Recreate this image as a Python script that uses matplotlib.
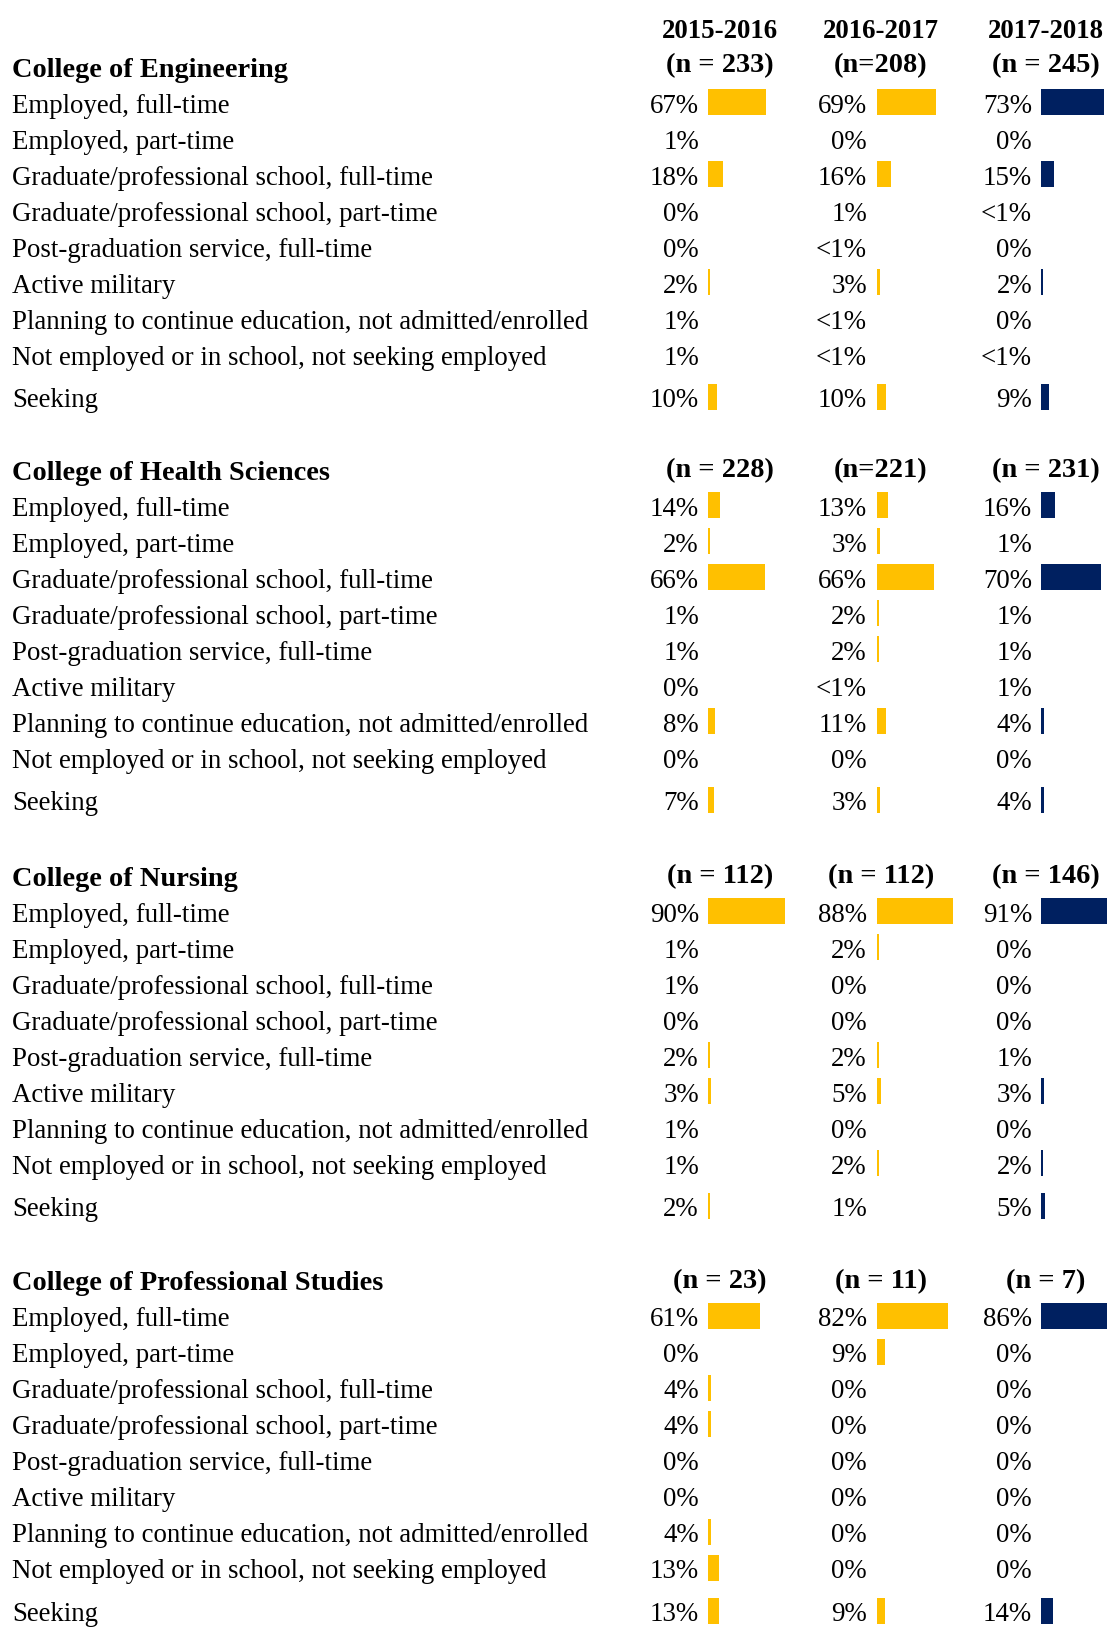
import matplotlib
matplotlib.use("Agg")
import matplotlib.pyplot as plt

categories = [
    "Employed, full-time",
    "Employed, part-time",
    "Graduate/professional school, full-time",
    "Graduate/professional school, part-time",
    "Post-graduation service, full-time",
    "Active military",
    "Planning to continue education, not admitted/enrolled",
    "Not employed or in school, not seeking employed",
    "Seeking",
]
years = ["2015-2016", "2016-2017", "2017-2018"]
colleges = [
    "College of Engineering",
    "College of Health Sciences",
    "College of Nursing",
    "College of Professional Studies",
]
n_labels = [
    ["(n = 233)", "(n=208)", "(n = 245)"],
    ["(n = 228)", "(n=221)", "(n = 231)"],
    ["(n = 112)", "(n = 112)", "(n = 146)"],
    ["(n = 23)", "(n = 11)", "(n = 7)"],
]

# "<1%" is stored as 0.5
LT1 = 0.5
engineering = [
    [67, 1, 18, 0, 0, 2, 1, 1, 10],
    [69, 0, 16, 1, LT1, 3, LT1, LT1, 10],
    [73, 0, 15, LT1, 0, 2, 0, LT1, 9],
]
health = [
    [14, 2, 66, 1, 1, 0, 8, 0, 7],
    [13, 3, 66, 2, 2, LT1, 11, 0, 3],
    [16, 1, 70, 1, 1, 1, 4, 0, 4],
]
nursing = [
    [90, 1, 1, 0, 2, 3, 1, 1, 2],
    [88, 2, 0, 0, 2, 5, 0, 2, 1],
    [91, 0, 0, 0, 1, 3, 0, 2, 5],
]
professional = [
    [61, 0, 4, 4, 0, 0, 4, 13, 13],
    [82, 9, 0, 0, 0, 0, 0, 0, 9],
    [86, 0, 0, 0, 0, 0, 0, 0, 14],
]
sections = [engineering, health, nursing, professional]

GOLD = "#FFC000"
NAVY = "#002060"
col_colors = [GOLD, GOLD, NAVY]

W, H = 1107, 1627
fig = plt.figure(figsize=(W / 100, H / 100), dpi=100)
ax = fig.add_axes([0, 0, 1, 1])
ax.set_xlim(0, W)
ax.set_ylim(H, 0)
ax.axis("off")

font = "Liberation Serif"
fs = 19.4          # row labels and percentages
fs_year = 19.4
fs_head = 20.4     # college names and n labels
row_h = 36.0
seek_gap = 6.5
section_top = [104, 507, 913, 1318]
pct_right = [699, 867, 1032]
bar_left = [708, 877, 1041]
head_center = [720, 881, 1046]
px_per_pct = 0.86
bar_h = 26


def fmt(v):
    if 0 < v < 1:
        return "<1%"
    return f"{v:g}%"


for j, yr in enumerate(years):
    ax.text(head_center[j], 31, yr, ha="center", va="center", fontsize=fs_year,
            fontweight="bold", family=font)

for s, (college, data) in enumerate(zip(colleges, sections)):
    y0 = section_top[s]
    head_y = y0 - row_h
    ax.text(12, head_y + 2, college, ha="left", va="center", fontsize=fs_head,
            fontweight="bold", family=font)
    for j in range(3):
        ax.text(head_center[j], head_y - (2 if s == 0 else 0), n_labels[s][j],
                ha="center", va="center", fontsize=fs_head, fontweight="bold",
                family=font)
    ys = [y0 + i * row_h + (seek_gap if i == len(categories) - 1 else 0)
          for i in range(len(categories))]
    for i, cat in enumerate(categories):
        ax.text(12, ys[i] + 2, cat, ha="left", va="center", fontsize=fs, family=font)
    for j in range(3):
        vals = data[j]
        for i, v in enumerate(vals):
            ax.text(pct_right[j], ys[i] + 2, fmt(v), ha="right", va="center",
                    fontsize=fs, family=font)
        widths = [v * px_per_pct if v >= 2 else 0 for v in vals]
        ax.barh([y - 2 for y in ys], widths, height=bar_h, left=bar_left[j],
                color=col_colors[j], linewidth=0)

fig.savefig("out.png", dpi=100)
